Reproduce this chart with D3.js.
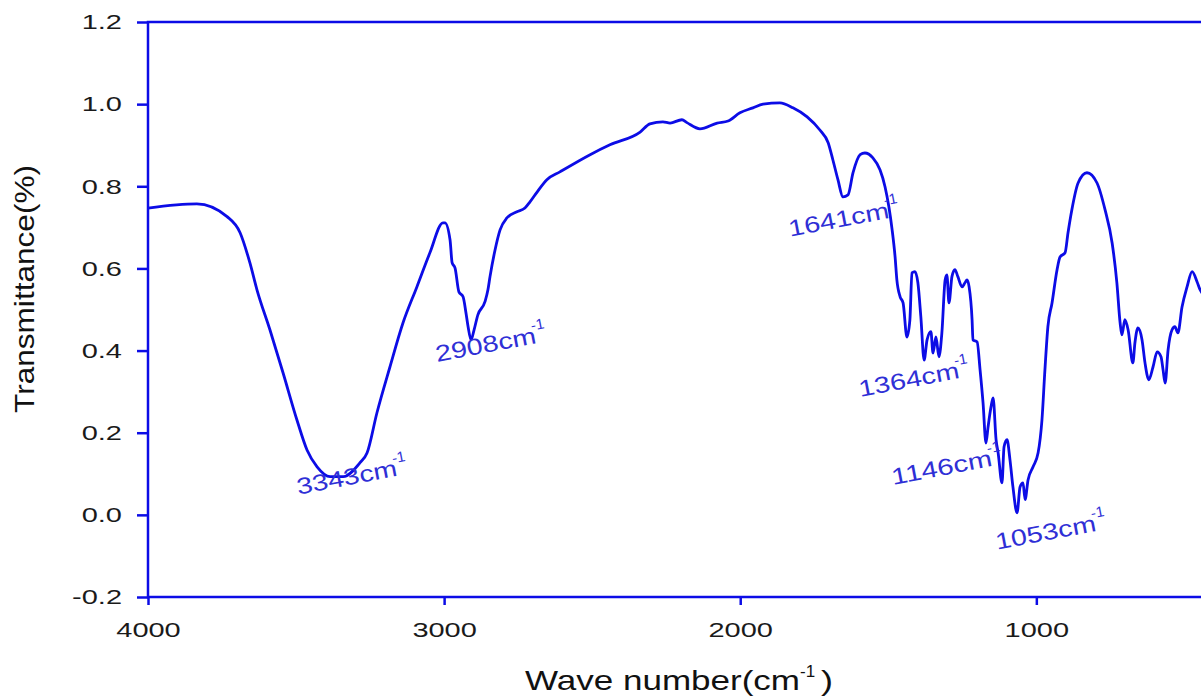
<!DOCTYPE html>
<html><head><meta charset="utf-8">
<script src="https://cdn.jsdelivr.net/npm/d3@7"></script>
<style>body{margin:0;background:#fff;overflow:hidden} svg{display:block}</style>
</head><body><svg id="chart" width="1201" height="697"></svg>
<script>
// ---- data ----
const wavenumber = [
4000,3835,3733,3689,3656,3632,3588,3544,3497,3463,3429,3385,3341,3284,3260,3227,3183,3139,3092,3048,3004,2997,
2980,2973,2963,2950,2936,2926,2919,2909,2899,2886,2862,2852,2845,2828,2811,2788,2754,2727,2710,2686,2653,2609,
2507,2440,2338,2305,2261,2237,2197,2180,2136,2078,2041,2001,1957,1923,1866,1822,1774,1731,1703,1687,1670,1653,
1636,1619,1595,1579,1552,1528,1511,1498,1487,1477,1471,1460,1450,1437,1427,1420,1410,1400,1390,1379,1369,1356,
1349,1339,1329,1319,1308,1302,1295,1285,1275,1265,1251,1241,1234,1227,1217,1214,1200,1190,1180,1170,1163,1153,
1146,1136,1129,1116,1109,1099,1089,1079,1065,1055,1045,1038,1028,1011,994,981,971,961,947,930,920,903,893,880,
859,829,795,768,744,728,717,711,701,690,674,667,657,643,633,620,606,592,579,572,565,555,542,532,522,508,491,474,
457,447,425,400];
const transmittance = [
0.747,0.757,0.726,0.687,0.614,0.548,0.450,0.346,0.231,0.158,0.117,0.093,0.093,0.127,0.151,0.248,0.360,0.467,0.555,0.638,0.711,0.711,
0.670,0.614,0.601,0.543,0.531,0.491,0.458,0.426,0.450,0.487,0.519,0.548,0.580,0.645,0.694,0.723,0.738,0.747,0.762,0.786,0.816,0.835,
0.877,0.901,0.932,0.952,0.957,0.954,0.962,0.955,0.940,0.954,0.959,0.979,0.991,1.000,1.003,0.991,0.969,0.937,0.906,0.864,0.816,0.774,
0.779,0.833,0.877,0.881,0.869,0.840,0.799,0.750,0.694,0.628,0.572,0.531,0.516,0.433,0.475,0.589,0.592,0.565,0.482,0.377,0.426,0.446,
0.394,0.433,0.385,0.443,0.572,0.584,0.516,0.580,0.597,0.580,0.555,0.565,0.572,0.555,0.475,0.426,0.421,0.353,0.273,0.175,0.214,0.263,
0.285,0.183,0.151,0.078,0.166,0.183,0.134,0.068,0.005,0.068,0.078,0.037,0.085,0.117,0.151,0.231,0.353,0.458,0.516,0.597,0.628,0.638,0.687,0.743,
0.808,0.833,0.808,0.743,0.662,0.565,0.467,0.438,0.475,0.450,0.370,0.419,0.455,0.426,0.370,0.329,0.360,0.397,0.385,0.353,0.321,0.402,0.450,0.458,0.443,0.506,0.555,0.592,
0.567,0.548,0.530,0.520];
const xTickValues = [4000, 3000, 2000, 1000];
const yTickValues = [-0.2, 0.0, 0.2, 0.4, 0.6, 0.8, 1.0, 1.2];
const peakNames = ["3343", "2908", "1641", "1364", "1146", "1053"];
const peakLabelWn = [3493, 3024, 1832, 1595, 1484, 1133];
const peakLabelT = [0.049, 0.372, 0.677, 0.287, 0.073, -0.085];
const xTitle = "Wave number(cm";
const yTitle = "Transmittance(%)";

// ---- drawing ----
const svg = d3.select("#chart");
const mL = 148, mR = 1214, mT = 22, mB = 597;
const x = d3.scaleLinear().domain([4000, 400]).range([mL, mR]);
const y = d3.scaleLinear().domain([-0.2, 1.2]).range([mB, mT]);
const blue = "#0c0ce6";
const font = "'Liberation Sans', Arial, sans-serif";

function stretch(sel, f) {
  sel.each(function () {
    const w = this.getComputedTextLength();
    d3.select(this).attr("textLength", w * f).attr("lengthAdjust", "spacingAndGlyphs");
  });
}

// y axis
const gy = svg.append("g").attr("transform", `translate(${mL},0)`)
  .call(d3.axisLeft(y).tickValues(yTickValues).tickSize(11).tickPadding(15).tickFormat(d => d.toFixed(1)));
gy.select(".domain").remove();
gy.selectAll(".tick line").attr("stroke", blue).attr("stroke-width", 2.5);
gy.selectAll(".tick text").attr("font-family", font).attr("font-size", 21).attr("fill", "#1a1a1a").call(stretch, 1.38);

// x axis
const gx = svg.append("g").attr("transform", `translate(0,${mB})`)
  .call(d3.axisBottom(x).tickValues(xTickValues).tickSize(8).tickPadding(17).tickFormat(d => String(d)));
gx.select(".domain").remove();
gx.selectAll(".tick line").attr("stroke", blue).attr("stroke-width", 2.5);
gx.selectAll(".tick text").attr("font-family", font).attr("font-size", 21).attr("fill", "#1a1a1a").call(stretch, 1.38);

// frame
svg.append("rect").attr("x", mL).attr("y", mT).attr("width", mR - mL).attr("height", mB - mT)
  .attr("fill", "none").attr("stroke", blue).attr("stroke-width", 2.5);

// spectrum
const pts = wavenumber.map((w, i) => [w, transmittance[i]]);
svg.append("path").datum(pts)
  .attr("d", d3.line().x(d => x(d[0])).y(d => y(d[1])).curve(d3.curveMonotoneX))
  .attr("fill", "none").attr("stroke", blue).attr("stroke-width", 2.8).attr("stroke-linejoin", "round");

// peak labels
const labelColor = "#2f2fd6";
peakNames.forEach((name, i) => {
  const g = svg.append("g").attr("transform", `translate(${x(peakLabelWn[i])},${y(peakLabelT[i])}) rotate(-10.8)`);
  g.append("text").attr("x", 0).attr("y", 0).text(name + "cm")
    .attr("font-family", font).attr("font-size", 23).attr("fill", labelColor)
    .attr("textLength", 102).attr("lengthAdjust", "spacingAndGlyphs");
  g.append("text").attr("x", 99).attr("y", -13).text("-1")
    .attr("font-family", font).attr("font-size", 15).attr("fill", labelColor);
});

// axis titles
svg.append("text").attr("x", 525).attr("y", 690).text(xTitle)
  .attr("font-family", font).attr("font-size", 28).attr("fill", "#111")
  .attr("textLength", 275).attr("lengthAdjust", "spacingAndGlyphs");
svg.append("text").attr("x", 800).attr("y", 677).text("-1")
  .attr("font-family", font).attr("font-size", 17).attr("fill", "#111");
svg.append("text").attr("x", 821).attr("y", 690).text(")")
  .attr("font-family", font).attr("font-size", 28).attr("fill", "#111")
  .attr("textLength", 12).attr("lengthAdjust", "spacingAndGlyphs");

svg.append("text").attr("transform", `translate(34,289) rotate(-90)`).attr("text-anchor", "middle")
  .text(yTitle).attr("font-family", font).attr("font-size", 28).attr("fill", "#111")
  .attr("textLength", 248).attr("lengthAdjust", "spacingAndGlyphs");
</script>
</body></html>
